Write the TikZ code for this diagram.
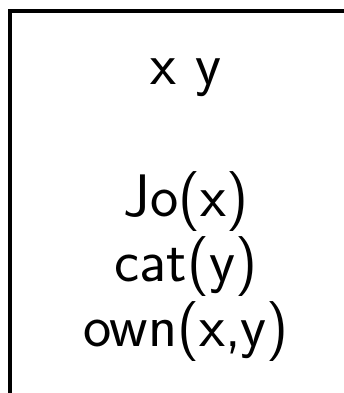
\documentclass[tikz,border=0pt]{standalone}
\usepackage{fontspec}
\usepackage{tikz}
\usetikzlibrary{positioning}

\begin{document}
\begin{tikzpicture}[x=1pt, y=1pt,
	drsline/.style={draw=black, line width=4pt},
	drstext/.style={font=\fontsize{60}{65}\sffamily, anchor=base, inner sep=0pt, align=center}
	]

	% Picture frame (the box is cut off at the right and the bottom)
	\useasboundingbox (0,0) rectangle (344,-393);
	\clip (0,0) rectangle (344,-393);

	% DRS box
	\draw[drsline] (10,-430) -- (10,-11) -- (400,-11);

	% Universe
	\node[drstext] (univ) at (186,-85) {x y};

	% Conditions
	\node[drstext] (jo) at (186,-216) {Jo(x)};
	\node[drstext, below=65pt of jo.base, anchor=base] (cat) {cat(y)};
	\node[drstext, below=65pt of cat.base, anchor=base] (own) {own(x,y)};

\end{tikzpicture}
\end{document}
